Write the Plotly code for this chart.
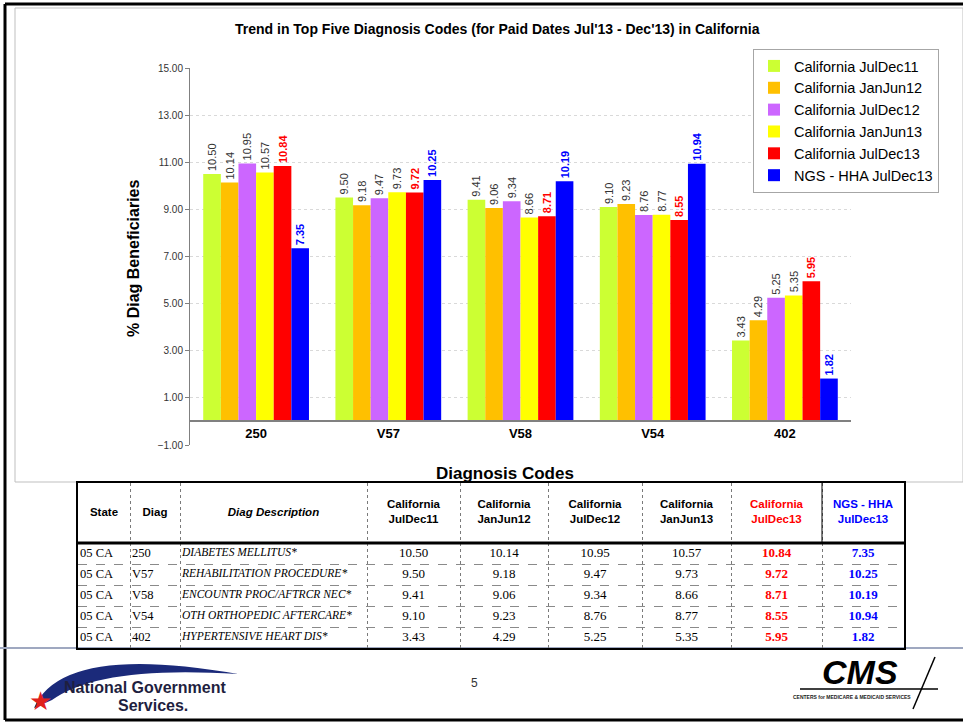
import plotly.graph_objects as go

W, H = 963, 723

# ---- data ----
codes = ["250", "V57", "V58", "V54", "402"]
descriptions = ["DIABETES MELLITUS*", "REHABILITATION PROCEDURE*", "ENCOUNTR PROC/AFTRCR NEC*",
                "OTH ORTHOPEDIC AFTERCARE*", "HYPERTENSIVE HEART DIS*"]
states = ["05 CA"] * 5
series_names = ["California JulDec11", "California JanJun12", "California JulDec12",
                "California JanJun13", "California JulDec13", "NGS - HHA JulDec13"]
jul_dec11 = [10.50, 9.50, 9.41, 9.10, 3.43]
jan_jun12 = [10.14, 9.18, 9.06, 9.23, 4.29]
jul_dec12 = [10.95, 9.47, 9.34, 8.76, 5.25]
jan_jun13 = [10.57, 9.73, 8.66, 8.77, 5.35]
jul_dec13 = [10.84, 9.72, 8.71, 8.55, 5.95]
ngs_hha = [7.35, 10.25, 10.19, 10.94, 1.82]
y_ticks = [15, 13, 11, 9, 7, 5, 3, 1, -1]
table_headers = ["<b>State</b>", "<b>Diag</b>", "<b><i>Diag Description</i></b>",
                 "<b>California<br>JulDec11</b>", "<b>California<br>JanJun12</b>",
                 "<b>California<br>JulDec12</b>", "<b>California<br>JanJun13</b>",
                 "<b>California<br>JulDec13</b>", "<b>NGS - HHA<br>JulDec13</b>"]

series = [jul_dec11, jan_jun12, jul_dec12, jan_jun13, jul_dec13, ngs_hha]
colors = ["#CCFF33", "#FFC000", "#CC66FF", "#FFFF00", "#FF0000", "#0000FF"]
NARROW = "Liberation Sans Narrow, Arial Narrow, Arial"
label_fonts = [
    dict(family=NARROW, size=11, color="#333333"),
    dict(family=NARROW, size=11, color="#333333"),
    dict(family=NARROW, size=11, color="#333333"),
    dict(family=NARROW, size=11, color="#333333"),
    dict(family=NARROW, size=11, color="#FF0000", weight="bold"),
    dict(family=NARROW, size=11, color="#0000FF", weight="bold"),
]


def px(x):
    return x / W


def py(y):
    return 1 - y / H


# plot area in pixels
X0, X1, YT, YB = 190, 851, 68, 445
Y_RANGE = [-1, 15]

fig = go.Figure()

for name, vals, col, lf in zip(series_names, series, colors, label_fonts):
    fig.add_trace(go.Bar(
        x=codes, y=vals, name=name,
        marker=dict(color=col, line=dict(width=0)),
        texttemplate="%{y:.2f}", textposition="outside", textangle=-90,
        textfont=lf, constraintext="none", cliponaxis=False,
    ))

# position of the zero line in paper coords
y_dom = [py(YB), py(YT)]
zero_pos = y_dom[0] + (0 - Y_RANGE[0]) / (Y_RANGE[1] - Y_RANGE[0]) * (y_dom[1] - y_dom[0])

# ---- table drawn on its own axes (units = pixels inside the table) ----
col_widths = [52, 50, 187, 93, 88, 94, 89, 91, 82]
HEAD_H, ROW_H = 60, 21
TX0, TY0 = 78, 483
TW = sum(col_widths)
TH = HEAD_H + ROW_H * len(codes)

col_edges = [0]
for w in col_widths:
    col_edges.append(col_edges[-1] + w)
row_edges = [0, HEAD_H] + [HEAD_H + ROW_H * (i + 1) for i in range(len(codes))]
row_mid = [HEAD_H + ROW_H * (i + 0.5) for i in range(len(codes))]
col_mid = [(a + b) / 2 for a, b in zip(col_edges[:-1], col_edges[1:])]

fig.add_trace(go.Scatter(
    x=col_mid, y=[HEAD_H / 2] * len(col_mid), mode="text", text=table_headers,
    textfont=dict(family="Liberation Sans, Arial", size=11.5,
                  color=["black"] * 7 + ["#FF0000", "#0000FF"]),
    xaxis="x2", yaxis="y2", showlegend=False, hoverinfo="skip"))

cell_cols = [
    states, codes, [f"<i>{d}</i>" for d in descriptions],
    [f"{v:.2f}" for v in jul_dec11], [f"{v:.2f}" for v in jan_jun12],
    [f"{v:.2f}" for v in jul_dec12], [f"{v:.2f}" for v in jan_jun13],
    [f"<b>{v:.2f}</b>" for v in jul_dec13], [f"<b>{v:.2f}</b>" for v in ngs_hha],
]
cell_colors = ["black"] * 7 + ["#FF0000", "#0000FF"]
cell_sizes = [12.5, 12.5, 11.5] + [13] * 6
for i, vals in enumerate(cell_cols):
    left = i < 3
    fig.add_trace(go.Scatter(
        x=[col_edges[i] + 2 if left else col_mid[i]] * len(vals), y=row_mid,
        mode="text", text=vals,
        textposition="middle right" if left else "middle center",
        textfont=dict(family="Liberation Serif, Times New Roman", size=cell_sizes[i], color=cell_colors[i]),
        xaxis="x2", yaxis="y2", showlegend=False, hoverinfo="skip", cliponaxis=False))

fig.update_layout(
    width=W, height=H, autosize=False,
    margin=dict(l=0, r=0, t=0, b=0, pad=0, autoexpand=False),
    paper_bgcolor="white", plot_bgcolor="white",
    font=dict(family="Liberation Sans, Arial", color="black"),
    barmode="group", bargap=0.2, bargroupgap=0,
    showlegend=True,
    legend=dict(x=px(753), y=py(49), xanchor="left", yanchor="top",
                bordercolor="#a6a6a6", borderwidth=1, bgcolor="white",
                font=dict(size=14.5), tracegroupgap=0, itemwidth=30),
    xaxis=dict(domain=[px(X0), px(X1)], anchor="free", position=zero_pos,
               showline=True, linecolor="#808080", linewidth=2, ticks="",
               tickfont=dict(size=13, weight="bold"), showgrid=False, automargin=False),
    yaxis=dict(domain=y_dom, range=Y_RANGE, tickvals=y_ticks, tickformat=".2f",
               showline=True, linecolor="#808080", linewidth=1,
               ticks="outside", ticklen=4, tickcolor="#808080",
               tickfont=dict(size=10, color="#333333"), automargin=False,
               showgrid=True, gridcolor="#d9d9d9", griddash="dot", zeroline=False),
    xaxis2=dict(domain=[px(TX0), px(TX0 + TW)], range=[0, TW], anchor="y2",
                tickvals=col_edges, showticklabels=False, ticks="", automargin=False,
                showgrid=True, gridcolor="#7a7a7a", griddash="dot", gridwidth=1.3,
                showline=True, mirror=True, linecolor="black", linewidth=2, zeroline=False),
    yaxis2=dict(domain=[py(TY0 + TH), py(TY0)], range=[TH, 0], anchor="x2",
                tickvals=row_edges, showticklabels=False, ticks="", automargin=False,
                showgrid=True, gridcolor="#8a8a8a", griddash="dash", gridwidth=1.2,
                showline=True, mirror=True, linecolor="black", linewidth=2, zeroline=False),
)

# header separator of the table
fig.add_shape(type="line", xref="x2 domain", yref="y2", x0=0, x1=1, y0=HEAD_H, y1=HEAD_H,
              line=dict(color="black", width=3))
fig.add_shape(type="line", xref="x2", yref="y2", x0=col_edges[-2], x1=col_edges[-2], y0=0, y1=HEAD_H,
              line=dict(color="black", width=1))


def note(x, y, text, size, color="black", angle=0):
    fig.add_annotation(x=px(x), y=py(y), xref="paper", yref="paper", showarrow=False,
                       xanchor="center", yanchor="middle", textangle=angle,
                       text=text, font=dict(size=size, color=color))


# titles
note(497, 29, "<b>Trend in Top Five Diagnosis Codes (for Paid Dates Jul'13 - Dec'13) in California</b>", 14)
note(133, 258, "<b>% Diag Beneficiaries</b>", 16, angle=-90)
note(505, 473, "<b>Diagnosis Codes</b>", 17)

# page frame, chart box
shapes = [
    dict(type="rect", x0=px(15), x1=px(963), y0=py(8), y1=py(482), line=dict(color="#bfbfbf", width=1)),
    dict(type="line", x0=px(5), x1=px(963), y0=py(4), y1=py(4), line=dict(color="black", width=3)),
    dict(type="line", x0=px(5), x1=px(5), y0=py(4), y1=py(720), line=dict(color="black", width=3)),
    dict(type="line", x0=px(5), x1=px(963), y0=py(720), y1=py(720), line=dict(color="black", width=3)),
    dict(type="line", x0=px(0), x1=px(963), y0=py(648), y1=py(648), line=dict(color="#9fa8c0", width=2)),
]
for s in shapes:
    s.update(xref="paper", yref="paper", layer="below")
    fig.add_shape(**s)

# NGS logo (swoosh, star, text)
swoosh = (f"M {px(34)},{py(708)} Q {px(62)},{py(643)} {px(238)},{py(674)} "
          f"Q {px(100)},{py(665)} {px(52)},{py(700)} Z")
fig.add_shape(type="path", path=swoosh, xref="paper", yref="paper",
              fillcolor="#1b2a7a", line=dict(width=0))
note(40, 701, "★", 26, "#e0201b")
note(145, 687, "<b>National Government</b>", 16, "#1f1f3f")
note(153, 705, "<b>Services.</b>", 16, "#1f1f3f")

# page number
note(474, 683, "5", 12, "#333333")

# CMS logo
note(860, 672, "<b><i>CMS</i></b>", 34)
fig.add_shape(type="line", x0=px(800), x1=px(938), y0=py(689), y1=py(689),
              xref="paper", yref="paper", line=dict(color="black", width=1.5))
fig.add_shape(type="line", x0=px(935), x1=px(913), y0=py(657), y1=py(709),
              xref="paper", yref="paper", line=dict(color="black", width=1.5))
note(852, 697, "<b>CENTERS for MEDICARE &amp; MEDICAID SERVICES</b>", 5, "#222222")

fig.write_html("out.html", config={"displayModeBar": False},
               post_script="document.body.style.margin='0';document.body.style.overflow='hidden';")
